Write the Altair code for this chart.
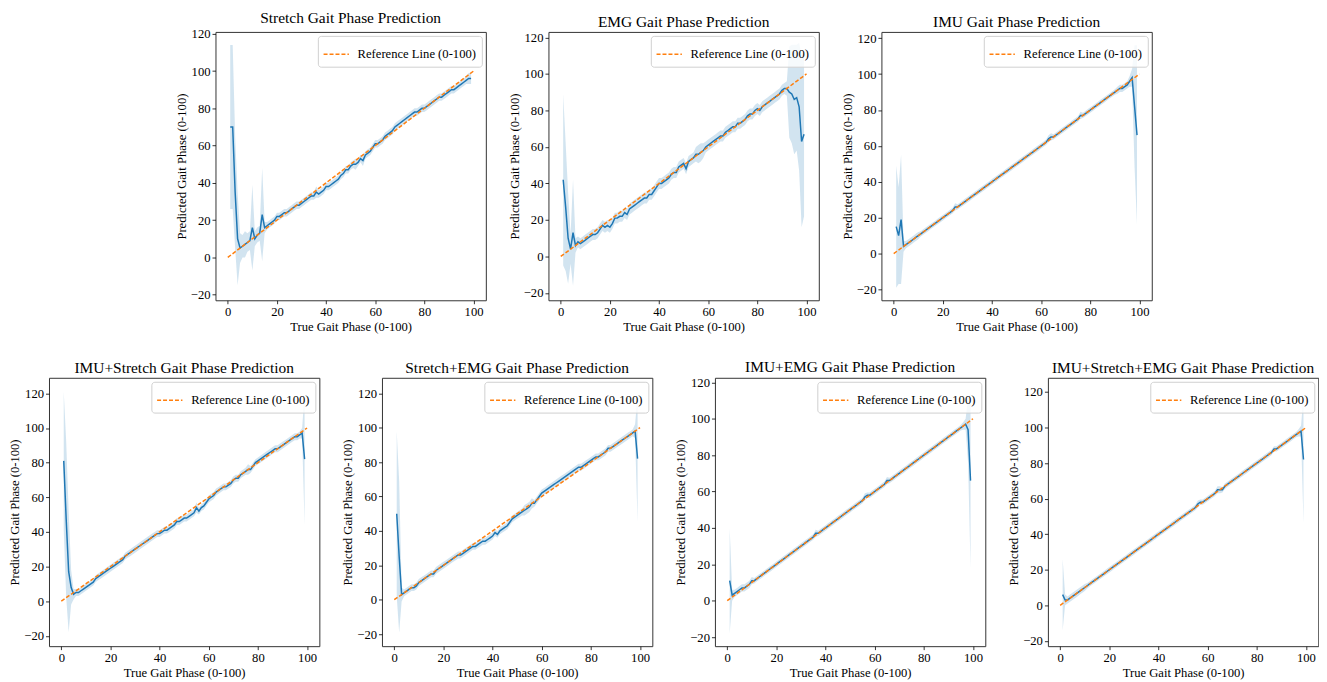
import altair as alt
import pandas as pd

# ---------------- data ----------------
true_phase = list(range(1, 100))          # x positions 1..99
ref_x = [0, 100]
ref_y = [0, 100]
ref_label = "Reference Line (0-100)"
x_ticks = [0, 20, 40, 60, 80, 100]
y_ticks = [-20, 0, 20, 40, 60, 80, 100, 120]

titles = [
    "Stretch Gait Phase Prediction",
    "EMG Gait Phase Prediction",
    "IMU Gait Phase Prediction",
    "IMU+Stretch Gait Phase Prediction",
    "Stretch+EMG Gait Phase Prediction",
    "IMU+EMG Gait Phase Prediction",
    "IMU+Stretch+EMG Gait Phase Prediction",
]

stretch_mean = [
    70, 70, 35, 10, 5, 6, 7, 8, 9, 16,
    10, 12, 13, 23, 16, 17, 18, 19, 20, 22,
    22, 23, 24, 24, 25, 26, 27, 28, 28, 29,
    30, 31, 32, 33, 33, 35, 34, 35, 36, 38,
    38, 39, 40, 41, 42, 44, 45, 47, 47, 49,
    50, 50, 51, 53, 52, 55, 56, 57, 59, 61,
    61, 62, 63, 65, 66, 67, 68, 70, 71, 72,
    73, 74, 75, 76, 77, 78, 78, 79, 80, 80,
    81, 82, 83, 84, 85, 86, 86, 87, 88, 89,
    90, 90, 91, 92, 93, 94, 95, 96, 96,
]
stretch_sd = [
    44, 44, 30, 25, 8, 6, 7, 5, 5, 23,
    4, 4, 4, 25, 3, 2, 2, 2, 2, 2,
    2, 2, 2, 2, 2, 2, 2, 2, 2, 2,
    2, 2, 2, 2, 2, 3, 2, 2, 2, 2,
    2, 2, 2, 2, 2, 2, 2, 2, 2, 2,
    2, 3, 2, 2, 3, 2, 2, 2, 2, 2,
    2, 2, 2, 2, 2, 2, 2, 2, 2, 2,
    2, 2, 2, 2, 2, 2, 2, 2, 2, 2,
    2, 2, 2, 2, 2, 2, 2, 2, 2, 2,
    2, 2, 2, 2, 2, 2, 2, 3, 3,
]

emg_mean = [
    42, 27, 10, 4, 13, 6, 8, 7, 8, 9,
    10, 11, 12, 12, 13, 15, 17, 16, 17, 16,
    18, 21, 21, 22, 22, 24, 23, 26, 27, 28,
    29, 30, 31, 32, 32, 34, 34, 36, 38, 40,
    40, 41, 42, 43, 45, 46, 46, 49, 50, 51,
    48, 52, 53, 54, 56, 56, 57, 58, 60, 61,
    62, 63, 64, 65, 66, 66, 68, 69, 70, 71,
    71, 73, 73, 74, 75, 77, 78, 78, 80, 81,
    80, 82, 83, 84, 85, 86, 87, 88, 89, 91,
    92, 92, 90, 89, 86, 87, 82, 63, 67,
]
emg_sd = [
    47, 35, 25, 8, 29, 4, 3, 3, 3, 3,
    3, 3, 3, 3, 3, 3, 3, 3, 3, 3,
    3, 3, 3, 3, 3, 3, 3, 3, 3, 3,
    3, 3, 3, 3, 3, 3, 3, 3, 3, 3,
    3, 3, 3, 3, 3, 3, 3, 3, 3, 3,
    3, 3, 3, 3, 4, 5, 5, 4, 3, 3,
    3, 3, 3, 3, 3, 3, 3, 3, 3, 3,
    3, 3, 3, 3, 3, 3, 3, 3, 3, 3,
    3, 3, 3, 3, 3, 3, 3, 3, 3, 3,
    3, 4, 25, 27, 30, 29, 35, 47, 45,
]

imu_mean = [
    15, 10, 19, 4, 5, 6, 7, 8, 9, 10,
    11, 12, 13, 14, 15, 16, 17, 18, 19, 20,
    21, 22, 23, 24, 26, 26, 27, 28, 29, 30,
    31, 32, 33, 34, 35, 36, 37, 38, 39, 40,
    41, 42, 43, 44, 45, 46, 47, 48, 49, 50,
    51, 52, 53, 54, 55, 56, 57, 58, 59, 60,
    61, 62, 64, 65, 65, 66, 67, 68, 69, 70,
    71, 72, 73, 74, 75, 77, 77, 78, 79, 80,
    81, 82, 83, 84, 85, 86, 87, 88, 89, 90,
    91, 92, 92, 93, 94, 96, 98, 82, 66,
]
imu_sd = [
    34, 27, 36, 3, 2, 2, 2, 2, 2, 2,
    1.5, 1.5, 1.5, 1.5, 1.5, 1.5, 1.5, 1.5, 1.5, 1.5,
    1.5, 1.5, 1.5, 1.5, 2, 1.5, 1.5, 1.5, 1.5, 1.5,
    1.5, 1.5, 1.5, 1.5, 1.5, 1.5, 1.5, 1.5, 1.5, 1.5,
    1.5, 1.5, 1.5, 1.5, 1.5, 1.5, 1.5, 1.5, 1.5, 1.5,
    1.5, 1.5, 1.5, 1.5, 1.5, 1.5, 1.5, 1.5, 1.5, 1.5,
    1.5, 1.5, 2, 2, 1.5, 1.5, 1.5, 1.5, 1.5, 1.5,
    1.5, 1.5, 1.5, 1.5, 1.5, 2, 1.5, 1.5, 1.5, 1.5,
    1.5, 1.5, 1.5, 1.5, 1.5, 1.5, 1.5, 1.5, 1.5, 1.5,
    2, 2, 2, 2, 2, 3, 5, 34, 50,
]

imu_stretch_mean = [
    81, 47, 17, 8, 4, 5, 5, 6, 7, 8,
    9, 10, 11, 13, 14, 15, 16, 17, 18, 19,
    20, 21, 22, 23, 24, 26, 27, 28, 29, 30,
    31, 32, 33, 34, 35, 36, 37, 38, 39, 39,
    40, 41, 41, 42, 43, 44, 46, 46, 47, 48,
    48, 49, 50, 51, 54, 52, 54, 55, 57, 59,
    60, 61, 63, 64, 65, 66, 66, 67, 68, 70,
    71, 71, 73, 74, 75, 76, 76, 78, 80, 81,
    82, 83, 84, 85, 86, 87, 88, 88, 89, 90,
    91, 92, 93, 94, 95, 95, 96, 97, 82,
]
imu_stretch_sd = [
    40, 45, 35, 10, 3, 2, 2, 2, 2, 2,
    2, 2, 2, 2, 2, 2, 2, 2, 2, 2,
    2, 2, 2, 2, 2, 2, 2, 2, 2, 2,
    2, 2, 2, 2, 2, 2, 2, 2, 2, 2,
    2, 2, 2, 2, 2, 2, 2, 2, 2, 2,
    2, 2, 2, 2, 3, 2, 2, 2, 2, 2,
    2, 2, 2, 2, 2, 2, 2, 2, 2, 2,
    2, 2, 2, 2, 2, 3, 2, 2, 2, 2,
    2, 2, 2, 2, 2, 2, 2, 2, 2, 2,
    2, 2, 2, 2, 2, 2, 2, 3, 38,
]

stretch_emg_mean = [
    50, 25, 3, 4, 5, 6, 7, 7, 8, 10,
    11, 12, 13, 14, 15, 15, 17, 18, 19, 20,
    21, 22, 23, 24, 25, 26, 26, 27, 28, 29,
    30, 31, 31, 32, 33, 34, 34, 35, 36, 37,
    39, 38, 40, 41, 42, 43, 45, 47, 48, 49,
    50, 51, 52, 53, 54, 56, 56, 58, 60, 62,
    63, 64, 65, 66, 67, 68, 69, 70, 71, 72,
    73, 74, 75, 76, 77, 77, 78, 79, 80, 81,
    82, 83, 83, 84, 85, 86, 88, 88, 89, 90,
    91, 92, 93, 94, 95, 96, 97, 98, 82,
]
stretch_emg_sd = [
    48, 44, 4, 2, 2, 2, 2, 2, 2, 2,
    2, 2, 2, 2, 2, 2, 2, 2, 2, 2,
    2, 2, 2, 2, 2, 2, 2, 2, 2, 2,
    2, 2, 2, 2, 2, 2, 2, 2, 2, 2,
    2, 2, 2, 2, 2, 2, 2, 2, 2, 2,
    2, 2, 3, 3, 3, 3, 2, 2, 2, 2,
    2, 2, 2, 2, 2, 2, 2, 2, 2, 2,
    2, 2, 2, 2, 2, 2, 2, 2, 2, 2,
    2, 2, 2, 2, 2, 2, 2, 2, 2, 2,
    2, 2, 2, 2, 2, 2, 2, 4, 37,
]

imu_emg_mean = [
    11, 3, 4, 5, 6, 7, 7, 8, 9, 11,
    11, 12, 13, 14, 15, 16, 17, 18, 19, 20,
    21, 22, 23, 24, 25, 26, 27, 28, 29, 30,
    31, 32, 33, 34, 35, 37, 37, 38, 39, 40,
    41, 42, 43, 44, 45, 46, 47, 48, 49, 50,
    51, 52, 53, 54, 55, 57, 58, 58, 59, 60,
    61, 62, 63, 64, 66, 66, 67, 68, 69, 70,
    71, 72, 73, 74, 75, 76, 77, 78, 79, 80,
    81, 82, 83, 84, 85, 86, 87, 88, 89, 90,
    91, 92, 93, 94, 95, 96, 97, 94, 66,
]
imu_emg_sd = [
    29, 3, 2, 2, 2, 2, 2, 2, 2, 2,
    1.5, 1.5, 1.5, 1.5, 1.5, 1.5, 1.5, 1.5, 1.5, 1.5,
    1.5, 1.5, 1.5, 1.5, 1.5, 1.5, 1.5, 1.5, 1.5, 1.5,
    1.5, 1.5, 1.5, 1.5, 1.5, 2, 1.5, 1.5, 1.5, 1.5,
    1.5, 1.5, 1.5, 1.5, 1.5, 1.5, 1.5, 1.5, 1.5, 1.5,
    1.5, 1.5, 1.5, 1.5, 1.5, 2, 1.5, 1.5, 1.5, 1.5,
    1.5, 1.5, 1.5, 1.5, 2, 1.5, 1.5, 1.5, 1.5, 1.5,
    1.5, 1.5, 1.5, 1.5, 1.5, 1.5, 1.5, 1.5, 1.5, 1.5,
    1.5, 1.5, 1.5, 1.5, 1.5, 1.5, 1.5, 1.5, 1.5, 1.5,
    1.5, 1.5, 1.5, 1.5, 1.5, 2, 3, 18, 48,
]

all_mean = [
    6, 3, 3, 4, 5, 6, 7, 8, 9, 10,
    11, 12, 13, 14, 15, 16, 17, 18, 19, 20,
    21, 22, 23, 24, 25, 26, 27, 28, 29, 30,
    31, 32, 33, 34, 35, 36, 37, 38, 39, 40,
    41, 42, 43, 44, 45, 46, 47, 48, 49, 50,
    51, 52, 53, 54, 55, 57, 58, 58, 59, 60,
    61, 62, 63, 65, 65, 65, 67, 68, 69, 70,
    71, 72, 73, 74, 75, 76, 77, 78, 79, 80,
    81, 82, 83, 84, 85, 86, 88, 88, 89, 90,
    91, 92, 93, 94, 95, 96, 97, 98, 82,
]
all_sd = [
    20, 3, 2, 2, 2, 2, 2, 2, 2, 2,
    1.5, 1.5, 1.5, 1.5, 1.5, 1.5, 1.5, 1.5, 1.5, 1.5,
    1.5, 1.5, 1.5, 1.5, 1.5, 1.5, 1.5, 1.5, 1.5, 1.5,
    1.5, 1.5, 1.5, 1.5, 1.5, 1.5, 1.5, 1.5, 1.5, 1.5,
    1.5, 1.5, 1.5, 1.5, 1.5, 1.5, 1.5, 1.5, 1.5, 1.5,
    1.5, 1.5, 1.5, 1.5, 1.5, 2, 1.5, 1.5, 1.5, 1.5,
    1.5, 1.5, 1.5, 2, 2, 1.5, 1.5, 1.5, 1.5, 1.5,
    1.5, 1.5, 1.5, 1.5, 1.5, 1.5, 1.5, 1.5, 1.5, 1.5,
    1.5, 1.5, 1.5, 1.5, 1.5, 1.5, 1.5, 1.5, 1.5, 1.5,
    1.5, 1.5, 1.5, 1.5, 1.5, 1.5, 2, 3, 36,
]

y_domains = [
    [-23, 121], [-24, 123], [-26, 123.5],
    [-26, 129], [-27, 129], [-25, 122.5], [-23, 128],
]

series = [
    (stretch_mean, stretch_sd),
    (emg_mean, emg_sd),
    (imu_mean, imu_sd),
    (imu_stretch_mean, imu_stretch_sd),
    (stretch_emg_mean, stretch_emg_sd),
    (imu_emg_mean, imu_emg_sd),
    (all_mean, all_sd),
]

# ---------------- styling ----------------
FONT = "Liberation Serif"
W, H = 272, 270
BLUE = "#1f77b4"
ORANGE = "#ff7f0e"


def panel(idx):
    mean, sd = series[idx]
    df = pd.DataFrame({
        "x": true_phase,
        "mean": mean,
        "lo": [m - s for m, s in zip(mean, sd)],
        "hi": [m + s for m, s in zip(mean, sd)],
    })
    ref = pd.DataFrame({"x": ref_x, "y": ref_y, "label": [ref_label] * len(ref_x)})

    xs = alt.Scale(domain=[-5, 105], nice=False, zero=False)
    ys = alt.Scale(domain=y_domains[idx], nice=False, zero=False)
    xaxis = alt.Axis(values=x_ticks, title="True Gait Phase (0-100)", format="d",
                     labelOverlap=False)
    yaxis = alt.Axis(values=y_ticks, title="Predicted Gait Phase (0-100)", format="d",
                     labelOverlap=False)

    band = alt.Chart(df).mark_area(color=BLUE, opacity=0.2, clip=True).encode(
        x=alt.X("x:Q", scale=xs, axis=xaxis),
        y=alt.Y("lo:Q", scale=ys, axis=yaxis),
        y2="hi:Q",
    )
    line = alt.Chart(df).mark_line(color=BLUE, strokeWidth=1.5, clip=True).encode(
        x=alt.X("x:Q", scale=xs, axis=xaxis),
        y=alt.Y("mean:Q", scale=ys, axis=yaxis),
    )
    refl = alt.Chart(ref).mark_line(strokeWidth=1.5, strokeDash=[4, 2], clip=True).encode(
        x=alt.X("x:Q", scale=xs, axis=xaxis),
        y=alt.Y("y:Q", scale=ys, axis=yaxis),
        color=alt.Color(
            "label:N",
            scale=alt.Scale(range=[ORANGE]),
            legend=alt.Legend(
                title=None,
                orient="top-right",
                offset=4,
                symbolType="stroke",
                symbolDash=[4, 2],
                symbolStrokeWidth=1.5,
                symbolSize=650,
                labelFont=FONT,
                labelFontSize=12.7,
                labelColor="black",
                labelLimit=0,
                labelOffset=8,
                fillColor="rgba(255,255,255,0.8)",
                strokeColor="#d0d0d0",
                cornerRadius=3,
                padding=5,
            ),
        ),
    )
    return alt.layer(band, line, refl).properties(
        width=W,
        height=H,
        title=alt.TitleParams(
            titles[idx], font=FONT, fontSize=15.5, fontWeight="normal",
            color="black", anchor="middle", offset=1,
        ),
    )


top = alt.hconcat(panel(0), panel(1), panel(2), spacing=21).resolve_scale(color="independent")
bottom = alt.hconcat(panel(3), panel(4), panel(5), panel(6), spacing=21).resolve_scale(color="independent")

chart = (
    alt.vconcat(top, bottom, spacing=25, center=True)
    .resolve_scale(color="independent")
    .properties(padding=0)
    .configure(font=FONT)
    .configure_axis(
        labelFont=FONT, titleFont=FONT,
        labelFontSize=12.7, titleFontSize=12.7,
        titleFontWeight="normal",
        labelColor="black", titleColor="black",
        tickColor="black", tickSize=3.5, tickWidth=0.8,
        labelPadding=2, titlePadding=2,
        labelOverlap=False,
        grid=False, domain=False,
    )
    .configure_view(stroke="#333333", strokeWidth=1)
)

chart.save("out.html", embed_options={"renderer": "svg", "actions": False})
